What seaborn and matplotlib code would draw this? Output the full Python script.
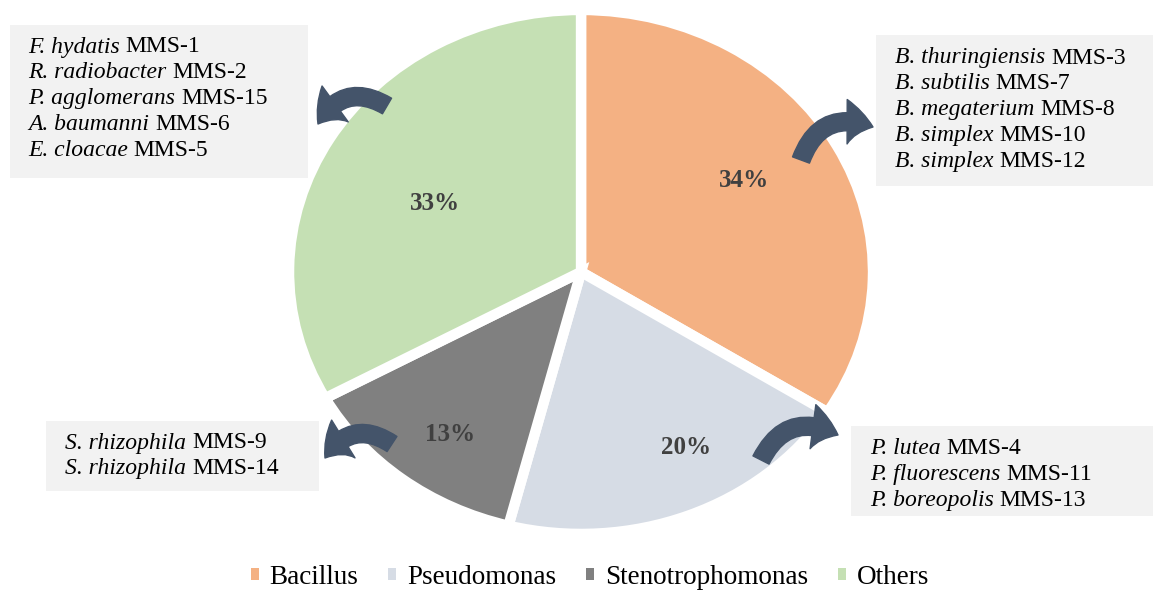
import matplotlib
matplotlib.use('Agg')
import matplotlib.pyplot as plt
import seaborn as sns
from matplotlib.patches import Rectangle, FancyArrowPatch, Patch

# data
categories = ['Bacillus', 'Pseudomonas', 'Stenotrophomonas', 'Others']
shares = [34, 20, 13, 33]
colors = ['#F4B183', '#D6DCE5', '#808080', '#C5E0B4']

bacillus_strains = [('B. thuringiensis', 'MMS-3'), ('B. subtilis', 'MMS-7'),
                    ('B. megaterium', 'MMS-8'), ('B. simplex', 'MMS-10'),
                    ('B. simplex', 'MMS-12')]
pseudomonas_strains = [('P. lutea', 'MMS-4'), ('P. fluorescens', 'MMS-11'),
                       ('P. boreopolis', 'MMS-13')]
steno_strains = [('S. rhizophila', 'MMS-9'), ('S. rhizophila', 'MMS-14')]
other_strains = [('F. hydatis', 'MMS-1'), ('R. radiobacter', 'MMS-2'),
                 ('P. agglomerans', 'MMS-15'), ('A. baumanni', 'MMS-6'),
                 ('E. cloacae', 'MMS-5')]

sns.set_theme(style='white')
plt.rcParams['font.family'] = ['Liberation Serif', 'DejaVu Serif']

W, H = 1153, 590
BOX_FS = 17
fig = plt.figure(figsize=(W / 100, H / 100), dpi=100)

# pie (slightly wider than tall, like the original)
ax = fig.add_axes([0, 0, 1, 1])
palette = sns.color_palette(colors)
wedges, _, pcts = ax.pie(shares, colors=palette, startangle=90, counterclock=False,
                         autopct='%d%%', pctdistance=0.65,
                         wedgeprops=dict(edgecolor='white', linewidth=7.5),
                         textprops=dict(fontsize=18, fontweight='bold', color='#404040'))
ax.set_aspect('auto')
ax.set_xlim(-1.990, 1.959)
ax.set_ylim(-1.214, 1.038)
ax.axis('off')

# percent label positions (pie units)
label_pos = [(0.56, 0.35), (0.36, -0.67), (-0.45, -0.62), (-0.50, 0.26)]
for t, p in zip(pcts, label_pos):
    t.set_position(p)
    t.set_ha('center')
    t.set_va('center')

# overlay in pixel coordinates for boxes and arrows
ov = fig.add_axes([0, 0, 1, 1], facecolor='none')
ov.set_xlim(0, W)
ov.set_ylim(H, 0)
ov.axis('off')
renderer = fig.canvas.get_renderer()
space = 0.25 * BOX_FS * 100 / 72


def strain_box(strains, x0, y0, x1, y1, tx, ty):
    ov.add_patch(Rectangle((x0, y0), x1 - x0, y1 - y0, facecolor='#F2F2F2',
                           edgecolor='none', zorder=1))
    for i, (sp, code) in enumerate(strains):
        y = ty + i * 25.8
        t = ov.text(tx, y, sp, fontsize=BOX_FS, style='italic', va='center',
                    ha='left', color='black', zorder=2)
        x_end = t.get_window_extent(renderer).x1
        ov.text(x_end + space, y, code, fontsize=BOX_FS, va='center', ha='left',
                color='black', zorder=2)


strain_box(other_strains, 10, 25, 308, 178, 28, 47)
strain_box(bacillus_strains, 876, 35, 1153, 186, 895, 58)
strain_box(steno_strains, 46, 421, 319, 491, 65, 443)
strain_box(pseudomonas_strains, 851, 426, 1153, 516, 870, 449)


def curved_arrow(start, end, rad):
    ov.add_patch(FancyArrowPatch(start, end, connectionstyle=f'arc3,rad={rad}',
                                 arrowstyle='simple,head_length=19,head_width=32,tail_width=13',
                                 mutation_scale=1, color='#44546A', zorder=3,
                                 shrinkA=0, shrinkB=0))


curved_arrow((387, 106), (318, 124), 0.5)
curved_arrow((801, 160), (873, 127), -0.5)
curved_arrow((392, 444), (325, 458), 0.5)
curved_arrow((761, 460), (838, 435), -0.5)

handles = [Patch(facecolor=c, edgecolor='none') for c in palette]
fig.legend(handles, categories, loc='center', bbox_to_anchor=(590 / W, 1 - 577 / H),
           ncol=4, frameon=False, fontsize=19.5, labelcolor='black',
           handlelength=0.3, handleheight=0.3, handletextpad=0.4, columnspacing=1.1)

fig.savefig('out.png', dpi=100)
